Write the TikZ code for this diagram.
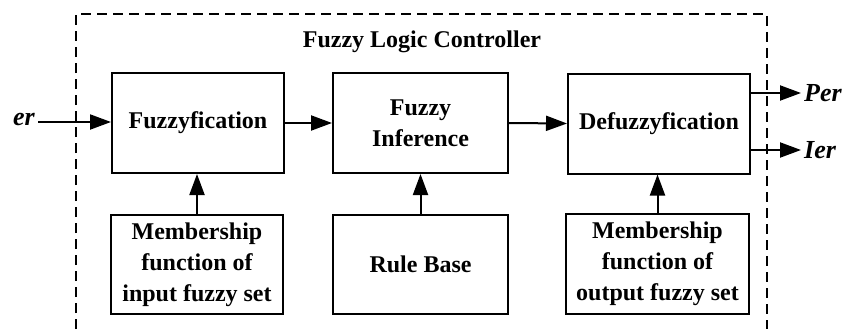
\documentclass[tikz,border=0pt]{standalone}
\usepackage{fontspec}
\setmainfont{Liberation Serif}
\usetikzlibrary{arrows.meta,calc}
\begin{document}
\begin{tikzpicture}[x=1pt,y=-1pt,
  every node/.style={font=\fontsize{24}{31}\selectfont\bfseries, inner sep=0pt},
  block/.style={draw, line width=2pt, align=center},
  signal/.style={font=\fontsize{26}{31}\selectfont\bfseries\itshape},
  flow/.style={line width=2pt, -{Triangle[length=21pt,width=15pt]}},
  frame/.style={line width=1.2pt, dash pattern=on 10pt off 6pt}]
  \useasboundingbox (0,0) rectangle (842,329);

  % controller boundary (open at the bottom)
  \draw[frame] (76,329) -- (76,14) -- (767,14) -- (767,329);
  \node (title) at (422,42) {Fuzzy Logic Controller};

  % main chain
  \node[block, minimum width=172pt, minimum height=100pt] (fuzz) at (198,123) {Fuzzyfication};
  \node[block, minimum width=175pt, minimum height=100pt] (infer) at (420.5,123) {Fuzzy\\Inference};
  \node[block, minimum width=182pt, minimum height=100pt] (defuzz) at (659,123.5) {Defuzzyfication};

  % knowledge blocks
  \node[block, minimum width=172pt, minimum height=99pt] (mfin) at (197,264.5) {Membership\\function of\\input fuzzy set};
  \node[block, minimum width=175pt, minimum height=99pt] (rules) at (420.5,264.5) {Rule Base};
  \node[block, minimum width=183pt, minimum height=100pt] (mfout) at (657.5,264) {Membership\\function of\\output fuzzy set};

  % signals
  \node[signal, anchor=east] (er) at (35,120) {er};
  \node[signal, anchor=west] (per) at (804,93) {Per};
  \node[signal, anchor=west] (ier) at (804,150) {Ier};
  \coordinate (erout) at (38,122);

  \draw[flow] (erout) -- (erout -| fuzz.west);
  \draw[flow] (fuzz.east) -- (infer.west);
  \draw[flow] (infer.east) -- (defuzz.west);
  \draw[flow] (defuzz.east |- per.west) -- ($(per.west)+(-3,0)$);
  \draw[flow] (defuzz.east |- ier.west) -- ($(ier.west)+(-3,0)$);

  \draw[flow] (mfin.north) -- (mfin.north |- fuzz.south);
  \draw[flow] (rules.north) -- (infer.south);
  \draw[flow] (mfout.north) -- (mfout.north |- defuzz.south);
\end{tikzpicture}
\end{document}
